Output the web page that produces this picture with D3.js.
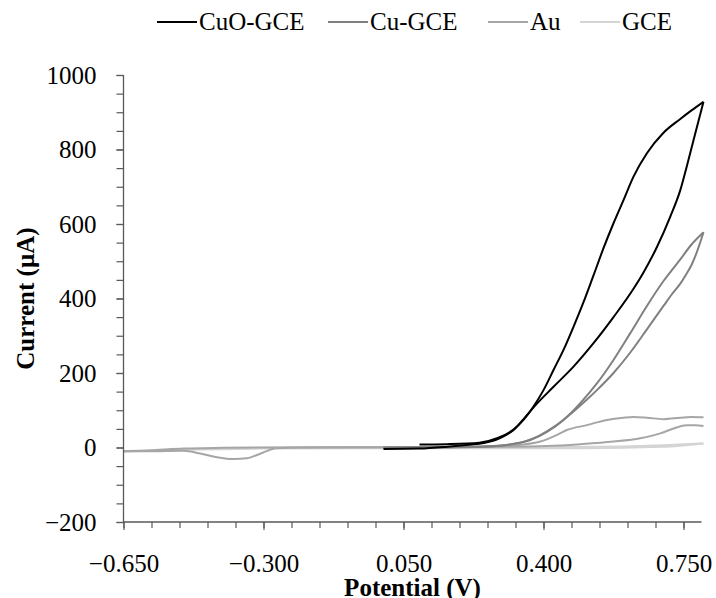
<!DOCTYPE html>
<html>
<head>
<meta charset="utf-8">
<script src="https://cdn.jsdelivr.net/npm/d3@7/dist/d3.min.js"></script>
<style>
  html, body { margin: 0; padding: 0; background: #fff; }
  svg { display: block; }
  text { font-family: "Liberation Serif", "DejaVu Serif", serif; fill: #000; }
</style>
</head>
<body>
<svg id="chart" width="716" height="598"></svg>
<script>
// ---- Data (potential V, current µA) ----
const seriesNames = ["CuO-GCE", "Cu-GCE", "Au", "GCE"];
const seriesColors = ["#000000", "#808080", "#a6a6a6", "#d4d4d4"];

const cuoForward = [[0.00,-4],[0.09,-3],[0.16,2],[0.20,6],[0.25,12],[0.28,20],[0.30,30],[0.325,47],[0.35,76],[0.383,117],[0.425,163],[0.475,217],[0.525,280],[0.575,350],[0.625,426],[0.65,470],[0.683,537],[0.717,620],[0.742,691],[0.758,754],[0.775,825],[0.80,928]];
const cuoReverse = [[0.80,928],[0.77,905],[0.742,882],[0.70,845],[0.6585,790],[0.625,727],[0.60,664],[0.575,602],[0.55,535],[0.525,462],[0.50,390],[0.475,324],[0.45,262],[0.425,208],[0.40,154],[0.375,110],[0.35,74],[0.325,48],[0.284,25],[0.24,13],[0.158,9],[0.09,8]];

const cuForward = [[0.00,-1],[0.15,0],[0.25,2],[0.30,6],[0.35,15],[0.39,32],[0.43,58],[0.47,92],[0.508,128],[0.5335,154],[0.575,200],[0.617,255],[0.6585,317],[0.70,380],[0.72,410],[0.742,440],[0.755,462],[0.77,490],[0.78,515],[0.79,545],[0.80,578]];
const cuReverse = [[0.80,578],[0.77,545],[0.742,505],[0.72,475],[0.70,447],[0.6585,380],[0.617,307],[0.575,235],[0.5335,172],[0.492,119],[0.45,74],[0.4085,42],[0.367,20],[0.308,7],[0.25,3],[0.15,1],[0.00,0]];

const auForward = [[-0.65,-10],[-0.58,-8],[-0.50,-3],[-0.40,-1],[-0.30,0],[0.00,1],[0.20,2],[0.30,4],[0.35,8],[0.392,16],[0.43,32],[0.4585,47],[0.508,60],[0.5585,74],[0.60,80],[0.625,82],[0.6585,80],[0.70,76],[0.742,80],[0.77,82],[0.80,81]];
const auReverse = [[0.80,58],[0.78,60],[0.758,60],[0.725,51],[0.692,38],[0.642,25],[0.575,16],[0.492,9],[0.408,4],[0.30,2],[0.10,1],[-0.20,0],[-0.27,-2],[-0.29,-9],[-0.3165,-20],[-0.3415,-29],[-0.375,-31],[-0.4165,-26],[-0.458,-16],[-0.50,-9],[-0.58,-10],[-0.65,-10]];

const gceForward = [[-0.65,-10],[-0.50,-4],[-0.30,-1],[0.00,0],[0.40,1],[0.60,3],[0.70,6],[0.80,11]];
const gceReverse = [[0.80,11],[0.70,2],[0.50,-2],[0.20,-2],[-0.30,-3],[-0.50,-6],[-0.65,-10]];

const xTickValues = [-0.65, -0.30, 0.05, 0.40, 0.75];
const xTickLabels = ["\u22120.650", "\u22120.300", "0.050", "0.400", "0.750"];
const yTickValues = [-200, 0, 200, 400, 600, 800, 1000];
const yTickLabels = ["\u2212200", "0", "200", "400", "600", "800", "1000"];

const seriesBranches = [
  [cuoForward, cuoReverse],
  [cuForward, cuReverse],
  [auForward, auReverse],
  [gceForward, gceReverse]
];

// ---- Layout ----
const FONT = '"Liberation Serif", "DejaVu Serif", serif';
const svg = d3.select("#chart");
const x = d3.scaleLinear().domain([-0.65, 0.795]).range([123.5, 701.5]);
const y = d3.scaleLinear().domain([-200, 1000]).range([522, 75]);
const axisColor = "#595959";
const fontSize = 25;

// curves (draw lightest first so black is on top); each branch is monotone in x
const line = d3.line().x(d => x(d[0])).y(d => y(d[1])).curve(d3.curveMonotoneX);
const plot = svg.append("g");
for (let s = seriesBranches.length - 1; s >= 0; s--) {
  seriesBranches[s].forEach(br => {
    const pts = br.slice().sort((a, b) => a[0] - b[0]);
    plot.append("path")
      .attr("d", line(pts))
      .attr("fill", "none")
      .attr("stroke", seriesColors[s])
      .attr("stroke-width", 2)
      .attr("stroke-linejoin", "round");
  });
}

function styleAxis(g) {
  g.attr("font-family", FONT).attr("font-size", fontSize);
  g.selectAll("line").attr("stroke", axisColor).attr("stroke-width", 1.2);
  g.selectAll(".domain").attr("stroke", axisColor).attr("stroke-width", 1.3);
  g.selectAll("text").attr("fill", "#000").attr("font-family", FONT);
}

// x axis
const xMinor = d3.range(0, 21).map(i => -0.65 + i * 0.07);
const xAxisG = svg.append("g").attr("transform", `translate(0,${y(-200)})`);
xAxisG.call(d3.axisBottom(x).tickValues(xMinor).tickSize(6).tickFormat(""));
const xAxisMajor = svg.append("g").attr("transform", `translate(0,${y(-200)})`);
xAxisMajor.call(d3.axisBottom(x).tickValues(xTickValues).tickSize(8).tickPadding(24)
  .tickFormat((d, i) => xTickLabels[i]));
xAxisMajor.select(".domain").remove();
styleAxis(xAxisG); styleAxis(xAxisMajor);
xAxisG.select(".domain").attr("d", `M${x(-0.65)},0H${x(0.795)}`);

// y axis
const yMinor = d3.range(-200, 1001, 50);
const yAxisG = svg.append("g").attr("transform", `translate(${x(-0.65)},0)`);
yAxisG.call(d3.axisLeft(y).tickValues(yMinor).tickSize(7).tickFormat(""));
const yAxisMajor = svg.append("g").attr("transform", `translate(${x(-0.65)},0)`);
yAxisMajor.call(d3.axisLeft(y).tickValues(yTickValues).tickSize(7).tickPadding(20)
  .tickFormat((d, i) => yTickLabels[i]));
yAxisMajor.select(".domain").remove();
styleAxis(yAxisG); styleAxis(yAxisMajor);
yAxisG.select(".domain").attr("d", `M0,${y(-200)}V${y(1000)}`);

// axis titles
svg.append("text")
  .attr("x", (x(-0.65) + x(0.795)) / 2)
  .attr("y", 596)
  .attr("text-anchor", "middle")
  .attr("font-family", FONT)
  .attr("font-size", fontSize)
  .attr("font-weight", "bold")
  .text("Potential (V)");

svg.append("text")
  .attr("transform", `translate(34,${(y(-200) + y(1000)) / 2}) rotate(-90)`)
  .attr("text-anchor", "middle")
  .attr("font-family", FONT)
  .attr("font-size", fontSize)
  .attr("font-weight", "bold")
  .text("Current (\u00b5A)");

// legend
const legendX = [157, 328, 488, 580];
const legendY = 22;
const legend = svg.append("g");
seriesNames.forEach((name, i) => {
  const g = legend.append("g").attr("transform", `translate(${legendX[i]},${legendY})`);
  g.append("line").attr("x1", 0).attr("x2", 40).attr("y1", 0).attr("y2", 0)
    .attr("stroke", seriesColors[i]).attr("stroke-width", 2);
  g.append("text").attr("x", 42).attr("y", 0).attr("dy", "0.33em")
    .attr("font-family", FONT)
    .attr("font-size", fontSize).text(name);
});
</script>
</body>
</html>
